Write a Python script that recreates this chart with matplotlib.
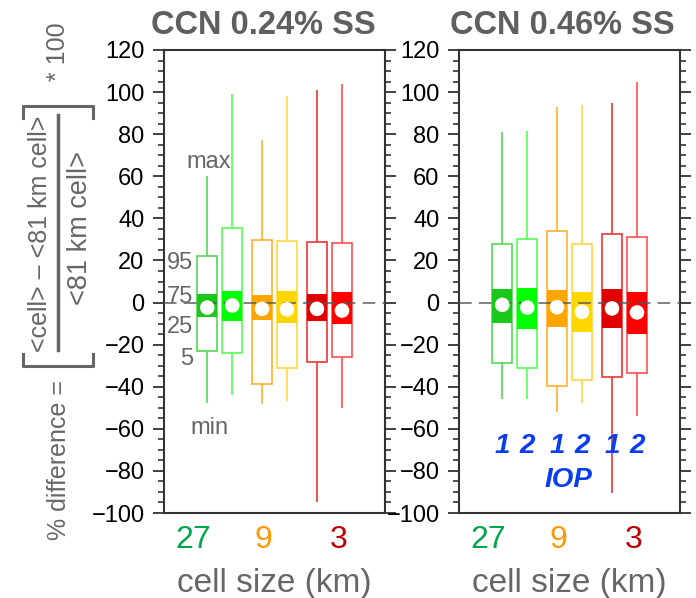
import matplotlib
matplotlib.use("Agg")
import matplotlib.pyplot as plt
from matplotlib.ticker import MultipleLocator
from matplotlib.lines import Line2D

plt.rcParams['font.family'] = ['Liberation Sans', 'DejaVu Sans']

# data: order = 27km IOP1, 27km IOP2, 9km IOP1, 9km IOP2, 3km IOP1, 3km IOP2
titles = ['CCN 0.24% SS', 'CCN 0.46% SS']
sizes = ['27', '9', '3']
size_colors = ['#00a650', '#ff9900', '#c00000']
iops = ['1', '2', '1', '2', '1', '2']

p_max = [[60, 99, 77, 98, 101, 104],
         [81, 81.5, 93, 94, 95, 105]]
p95 = [[22, 35.6, 29.8, 29.3, 28.7, 28.2],
       [27.7, 30.4, 34.0, 27.7, 32.5, 31.3]]
p75 = [[4.1, 5.7, 3.7, 5.6, 4.0, 5.2],
       [6.5, 6.8, 6.0, 5.1, 6.5, 4.9]]
p25 = [[-7.1, -9.0, -8.2, -9.8, -8.8, -10.1],
       [-9.5, -12.5, -11.7, -13.9, -12.2, -15.0]]
p5 = [[-22.9, -24.2, -38.8, -31.3, -28.3, -26.1],
      [-28.5, -31.0, -39.6, -36.9, -35.6, -33.5]]
p_min = [[-47.8, -43.8, -48.3, -46.7, -95, -49.9],
         [-45.7, -45.9, -52.2, -47.8, -90.5, -53.8]]
mean = [[-2.4, -1.4, -3.0, -3.2, -3.0, -3.8],
        [-1.1, -2.4, -2.2, -4.4, -2.8, -4.7]]

fill_colors = ['#1ac81a', '#00ff00', '#ffa500', '#ffd700', '#e00000', '#ff0000']
edge_colors = ['#55d855', '#55ff55', '#ffb030', '#ffd840', '#ee3535', '#ff5050']

group_x = [2.23, 4.42, 6.62]
positions = [g + d for g in group_x for d in (-0.5, 0.5)]
size_label_x = [1.15, 3.98, 6.98]

W, H = 696, 598
fig = plt.figure(figsize=(6.96, 5.98), dpi=100)
gray = '#666666'


def px_axes(x0, x1, y0, y1):
    return [x0 / W, 1 - y1 / H, (x1 - x0) / W, (y1 - y0) / H]


axes = [fig.add_axes(px_axes(164, 385, 50, 513)),
        fig.add_axes(px_axes(459, 680, 50, 513))]

for k, ax in enumerate(axes):
    for i, x in enumerate(positions):
        ax.bar(x, p95[k][i] - p5[k][i], bottom=p5[k][i], width=0.8,
               facecolor='white', edgecolor=edge_colors[i], linewidth=1.2, zorder=2)
        ax.bar(x, p75[k][i] - p25[k][i], bottom=p25[k][i], width=0.8,
               facecolor=fill_colors[i], edgecolor='none', zorder=2.5)
        ax.vlines(x, p95[k][i], p_max[k][i], color=edge_colors[i], lw=1.2, zorder=2)
        ax.vlines(x, p_min[k][i], p5[k][i], color=edge_colors[i], lw=1.2, zorder=2)
    ax.axhline(0, color='#555555', lw=1.3, ls=(0, (7, 4)), alpha=0.8, zorder=3)
    ax.scatter(positions, mean[k], s=110, color='white', zorder=4, edgecolors='none')

    ax.set_xlim(0, 8.84)
    ax.set_ylim(-100, 120)
    ax.set_xticks([])
    ax.yaxis.set_major_locator(MultipleLocator(20))
    ax.yaxis.set_minor_locator(MultipleLocator(5))
    ax.tick_params(axis='y', which='major', direction='out', length=8, width=1.3,
                   left=True, right=True, labelsize=17, pad=6, color='#333333')
    ax.tick_params(axis='y', which='minor', direction='out', length=4, width=1.2,
                   left=True, right=True, color='#333333')
    for sp in ax.spines.values():
        sp.set_color('#333333')
        sp.set_linewidth(1.5)

    for lab, lx, c in zip(sizes, size_label_x, size_colors):
        ax.text(lx, -0.058, lab, transform=ax.get_xaxis_transform(), color=c,
                fontsize=23, ha='center', va='center')
    ax.text(0.5, -0.152, 'cell size (km)', transform=ax.transAxes, color=gray,
            fontsize=24, ha='center', va='center')

fig.text(263 / W, 1 - 26 / H, titles[0], fontsize=23.5, fontweight='bold',
         color='#5f5f5f', ha='center', va='center')
fig.text(562 / W, 1 - 26 / H, titles[1], fontsize=23.5, fontweight='bold',
         color='#5f5f5f', ha='center', va='center')

# percentile key in the left panel
ax = axes[0]
ax.text(1.8, 67, 'max', color=gray, fontsize=17, ha='center', va='center')
ax.text(1.16, 19, '95', color=gray, fontsize=17, ha='right', va='center')
ax.text(1.18, 2.5, '75', color=gray, fontsize=17, ha='right', va='center')
ax.text(1.16, -11.4, '25', color=gray, fontsize=17, ha='right', va='center')
ax.text(1.16, -27, '5', color=gray, fontsize=17, ha='right', va='center')
ax.text(1.8, -59.5, 'min', color=gray, fontsize=17, ha='center', va='center')

# IOP labels in the right panel
ax = axes[1]
for x, lab in zip(positions, iops):
    ax.text(x, -68, lab, color='#0a3cf0', fontsize=20, fontweight='bold',
            fontstyle='italic', ha='center', va='center')
ax.text(4.36, -84.5, 'IOP', color='#0a3cf0', fontsize=20, fontweight='bold',
        fontstyle='italic', ha='center', va='center')


# y label drawn as a fraction with brackets
def fx(x):
    return x / W


def fy(y):
    return 1 - y / H


def fig_line(xs, ys, lw=2.2):
    fig.add_artist(Line2D([fx(v) for v in xs], [fy(v) for v in ys],
                          color=gray, lw=lw, transform=fig.transFigure))


fig.text(fx(58), fy(52), '* 100', rotation=90, color=gray, fontsize=18,
         ha='center', va='center')
fig_line([23, 23, 93, 93], [118, 106, 106, 118])
fig_line([23, 23, 93, 93], [354, 366, 366, 354])
fig.text(fx(40), fy(234), '<cell> – <81 km cell>', rotation=90, color=gray,
         fontsize=18, ha='center', va='center')
fig_line([58, 58], [115, 350], lw=2.5)
fig.text(fx(80), fy(228), '<81 km cell>', rotation=90, color=gray,
         fontsize=19.5, ha='center', va='center')
fig.text(fx(59), fy(460), '% difference =', rotation=90, color=gray,
         fontsize=18, ha='center', va='center')

fig.savefig('out.png', dpi=100)
